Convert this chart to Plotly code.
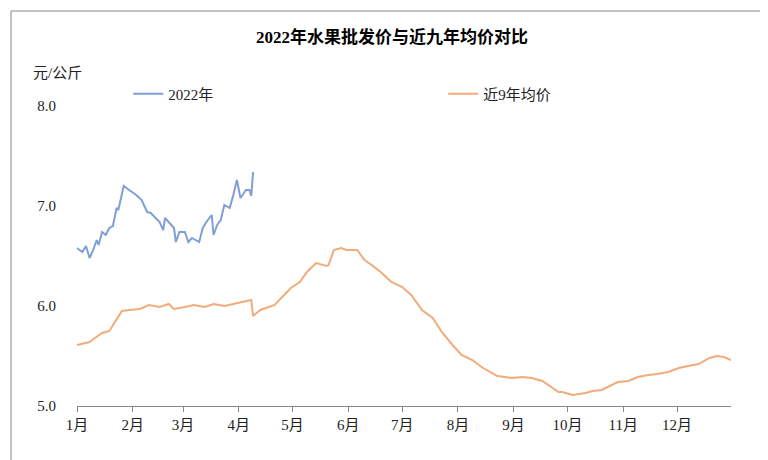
import plotly.graph_objects as go

# x values are day-of-year, y values in 元/公斤
y2022_day = [0, 3, 5, 7, 9, 11, 12, 14, 16, 18, 20, 22, 23, 26, 29, 33, 36, 39, 41, 44, 46, 48,
             49, 51, 54, 55, 57, 60, 62, 64, 68, 70, 72, 75, 76, 78, 80, 82, 85, 87, 89, 91, 94, 96, 97, 98]
y2022_val = [6.58, 6.54, 6.60, 6.48, 6.56, 6.66, 6.61, 6.74, 6.71, 6.78, 6.80, 6.98, 6.96, 7.20, 7.16,
             7.11, 7.06, 6.94, 6.93, 6.88, 6.84, 6.76, 6.88, 6.84, 6.78, 6.64, 6.74, 6.74, 6.64, 6.68,
             6.64, 6.78, 6.84, 6.91, 6.71, 6.81, 6.86, 7.01, 6.98, 7.11, 7.26, 7.08, 7.16, 7.16, 7.10, 7.34]

avg_day = [0, 7, 10, 14, 18, 22, 25, 29, 35, 40, 46, 51, 54, 60, 65, 71, 76, 82, 90, 97, 98, 102,
           110, 115, 119, 124, 128, 133, 139, 140, 143, 147, 150, 156, 160, 164, 169, 175, 181, 186,
           192, 198, 203, 209, 214, 220, 226, 234, 242, 248, 253, 259, 268, 270, 276, 283, 287, 292,
           301, 307, 312, 318, 323, 329, 335, 340, 346, 352, 356, 360, 364]
avg_val = [5.61, 5.64, 5.68, 5.73, 5.75, 5.86, 5.95, 5.96, 5.97, 6.01, 5.99, 6.02, 5.97, 5.99, 6.01,
           5.99, 6.02, 6.00, 6.03, 6.06, 5.90, 5.96, 6.01, 6.10, 6.18, 6.24, 6.34, 6.43, 6.40, 6.41,
           6.56, 6.58, 6.56, 6.56, 6.46, 6.41, 6.34, 6.24, 6.19, 6.11, 5.96, 5.88, 5.74, 5.61, 5.51,
           5.46, 5.38, 5.30, 5.28, 5.29, 5.28, 5.25, 5.14, 5.14, 5.11, 5.13, 5.15, 5.16, 5.24, 5.25,
           5.29, 5.31, 5.32, 5.34, 5.38, 5.40, 5.42, 5.48, 5.50, 5.49, 5.46]

month_start = [0, 31, 59, 90, 120, 151, 181, 212, 243, 273, 304, 334]
month_labels = [f"{m}月" for m in range(1, 13)]

font = "Liberation Serif, Noto Sans CJK SC"

fig = go.Figure()
fig.add_trace(go.Scatter(x=y2022_day, y=y2022_val, mode="lines", name="2022年",
                         line=dict(color="#7f9fd6", width=2)))
fig.add_trace(go.Scatter(x=avg_day, y=avg_val, mode="lines", name="近9年均价",
                         line=dict(color="#f2ab7a", width=2)))

fig.update_layout(
    width=768, height=460,
    paper_bgcolor="white", plot_bgcolor="white",
    margin=dict(l=69, r=45, t=98, b=62),
    font=dict(family=font, size=15, color="#222"),
    title=dict(text="<b>2022年水果批发价与近九年均价对比</b>", x=0.5, y=0.95,
               xanchor="center", font=dict(size=17, color="black")),
    legend=dict(orientation="h", x=0.56, xanchor="center", y=1.04, yanchor="middle",
                font=dict(size=15), entrywidth=270),
    xaxis=dict(range=[0, 364], tickvals=month_start, ticktext=month_labels,
               showgrid=False, showline=True, linecolor="#888", ticks="outside",
               ticklen=5, tickcolor="#888", zeroline=False),
    yaxis=dict(range=[5.0, 8.0], dtick=1, tickformat=".1f", showgrid=False,
               showline=False, zeroline=False, ticklabelstandoff=20),
    shapes=[dict(type="rect", xref="paper", yref="paper", x0=-66/654, x1=1+42/654,
                 y0=-58/300, y1=1+95/300, line=dict(color="#888", width=1))],
    annotations=[dict(text="元/公斤", xref="paper", yref="paper", x=-0.07, y=1.11,
                      xanchor="left", yanchor="middle", showarrow=False, font=dict(size=15))],
)

fig.write_html("out.html")
